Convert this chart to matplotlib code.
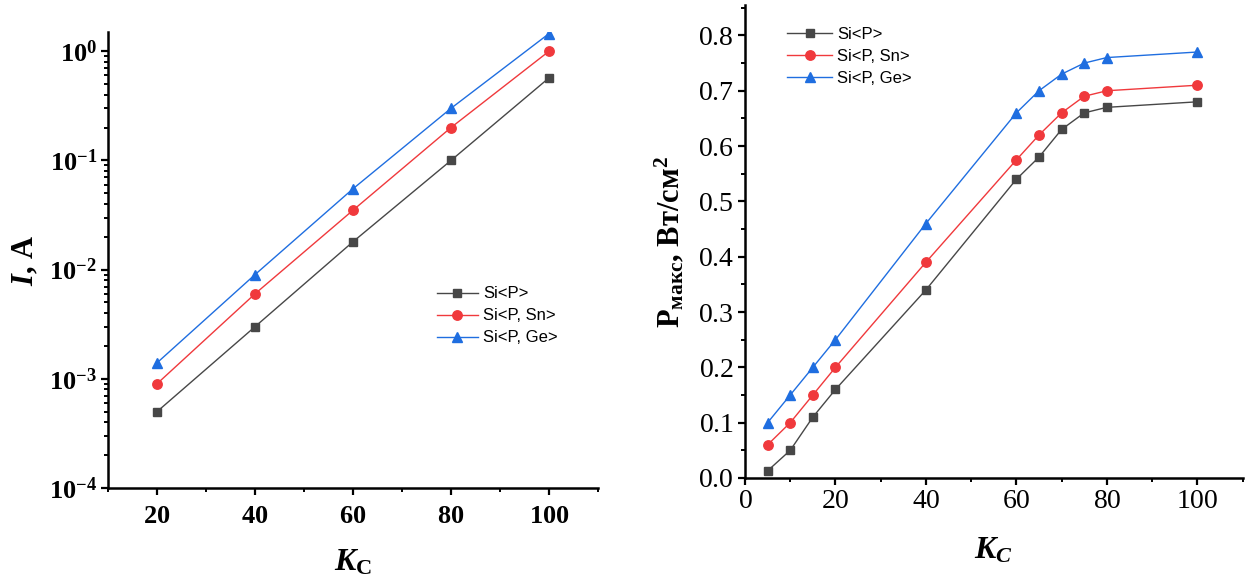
import matplotlib
matplotlib.use("Agg")
import matplotlib.pyplot as plt
import numpy as np
from matplotlib.ticker import FuncFormatter, LogLocator, MultipleLocator, NullFormatter

# data
kc_left = [20, 40, 60, 80, 100]
cur_si_p = [5e-4, 3e-3, 0.018, 0.10, 0.57]
cur_si_p_sn = [9e-4, 6e-3, 0.035, 0.20, 1.0]
cur_si_p_ge = [1.4e-3, 9e-3, 0.055, 0.30, 1.45]

kc_right = [5, 10, 15, 20, 40, 60, 65, 70, 75, 80, 100]
pmax_si_p = [0.013, 0.05, 0.11, 0.16, 0.34, 0.54, 0.58, 0.63, 0.66, 0.67, 0.68]
pmax_si_p_sn = [0.06, 0.10, 0.15, 0.20, 0.39, 0.575, 0.62, 0.66, 0.69, 0.70, 0.71]
pmax_si_p_ge = [0.10, 0.15, 0.20, 0.25, 0.46, 0.66, 0.70, 0.73, 0.75, 0.76, 0.77]

labels = ["Si<P>", "Si<P, Sn>", "Si<P, Ge>"]
colors = ["#474747", "#f0393c", "#1f6ee0"]
markers = ["s", "o", "^"]
msizes = [6.3, 6.8, 7.0]

SERIF = "Liberation Serif"
plt.rcParams["font.family"] = SERIF
plt.rcParams["mathtext.fontset"] = "custom"
plt.rcParams["mathtext.rm"] = SERIF
plt.rcParams["mathtext.bf"] = SERIF + ":bold"
plt.rcParams["mathtext.it"] = SERIF + ":italic:bold"

fig = plt.figure(figsize=(12.5, 5.82), dpi=100)
ax1 = fig.add_axes([0.0864, 0.1615, 0.392, 0.7835])
ax2 = fig.add_axes([0.596, 0.1787, 0.398, 0.8127])

for ax in (ax1, ax2):
    ax.spines["top"].set_visible(False)
    ax.spines["right"].set_visible(False)
    ax.spines["left"].set_linewidth(1.8)
    ax.spines["bottom"].set_linewidth(1.8)
    ax.tick_params(which="major", direction="out", length=5, width=1.6, pad=3)
    ax.tick_params(which="minor", direction="out", length=3, width=1.4)

# left panel: current, log scale
for ys, lab, c, m, ms in zip([cur_si_p, cur_si_p_sn, cur_si_p_ge], labels, colors, markers, msizes):
    ax1.plot(kc_left, ys, color=c, marker=m, markersize=ms, linewidth=1.0, label=lab)
ax1.set_yscale("log")
ax1.set_xlim(10, 110)
ax1.set_ylim(1e-4, 1.5)
ax1.set_xticks(kc_left)
ax1.xaxis.set_minor_locator(MultipleLocator(10))
ax1.yaxis.set_major_locator(LogLocator(base=10, numticks=10))
ax1.yaxis.set_minor_locator(LogLocator(base=10, subs=np.arange(2, 10), numticks=20))
ax1.yaxis.set_minor_formatter(NullFormatter())
ax1.yaxis.set_major_formatter(FuncFormatter(
    lambda v, p: r"$\mathbf{10^{%d}}$" % int(round(np.log10(v)))))
ax1.xaxis.set_major_formatter(FuncFormatter(lambda v, p: r"$\mathbf{%d}$" % v))
ax1.tick_params(axis="both", which="major", labelsize=19)
ax1.tick_params(axis="x", which="major", pad=8)
ax1.set_xlabel(r"$K_\mathbf{C}$", fontsize=23, labelpad=14)
ax1.set_ylabel(r"$I$, A", fontsize=22, fontweight="bold", labelpad=6)
ax1.legend(loc="upper left", bbox_to_anchor=(0.64, 0.475), frameon=False,
           prop={"family": "Liberation Sans", "size": 12},
           handlelength=2.5, labelspacing=0.42, handletextpad=0.3)

# right panel: max power
for ys, lab, c, m, ms in zip([pmax_si_p, pmax_si_p_sn, pmax_si_p_ge], labels, colors, markers, msizes):
    ax2.plot(kc_right, ys, color=c, marker=m, markersize=ms, linewidth=1.0, label=lab)
ax2.set_xlim(0, 110)
ax2.set_ylim(0, 0.855)
ax2.set_xticks([0, 20, 40, 60, 80, 100])
ax2.xaxis.set_minor_locator(MultipleLocator(10))
ax2.set_yticks(np.arange(0, 0.81, 0.1))
ax2.yaxis.set_major_formatter(FuncFormatter(lambda v, p: r"$\mathrm{%.1f}$" % v))
ax2.xaxis.set_major_formatter(FuncFormatter(lambda v, p: r"$\mathrm{%d}$" % v))
ax2.yaxis.set_minor_locator(MultipleLocator(0.05))
ax2.tick_params(axis="both", which="major", labelsize=20)
ax2.set_xlabel(r"$K_C$", fontsize=23, labelpad=16)
ax2.set_ylabel(r"P$_{\mathbf{макс}}$, Вт/см$^{\mathbf{2}}$", fontsize=22,
               fontweight="bold", labelpad=8)
ax2.legend(loc="upper left", bbox_to_anchor=(0.055, 0.985), frameon=False,
           prop={"family": "Liberation Sans", "size": 12},
           handlelength=2.7, labelspacing=0.42, handletextpad=0.3)

fig.savefig("out.png", dpi=100)
